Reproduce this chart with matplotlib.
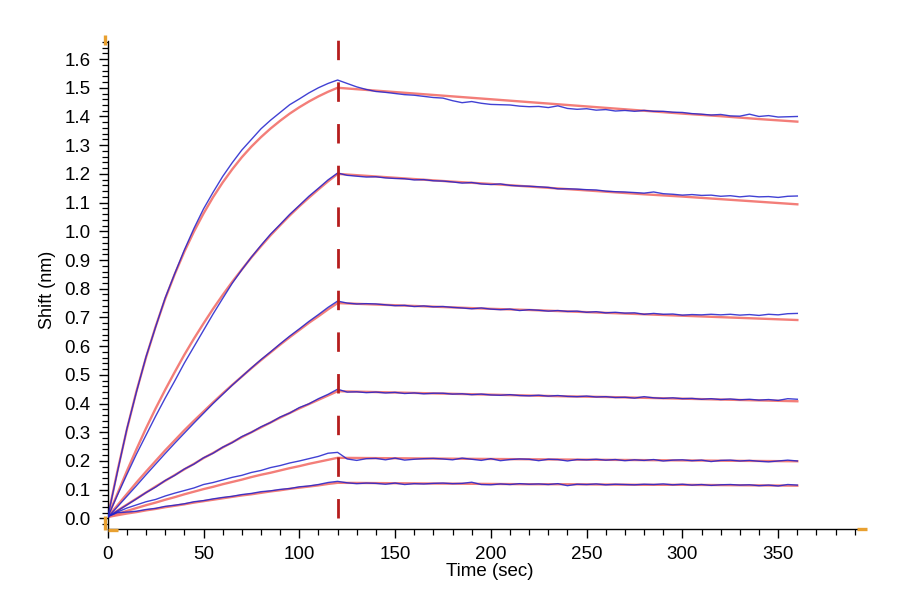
import matplotlib
matplotlib.use("Agg")
import matplotlib.pyplot as plt
from matplotlib.ticker import MultipleLocator, FormatStrFormatter

plt.rcParams["font.family"] = ["Liberation Sans", "DejaVu Sans"]

# ------------------------------------------------------------------
# data (association 0-120 s, dissociation 120-360 s)
# ------------------------------------------------------------------
t_assoc = [0, 5, 10, 15, 20, 25, 30, 35, 40, 45, 50, 55, 60, 65, 70, 75, 80,
           85, 90, 95, 100, 105, 110, 115, 120]
t_fit_dissoc = [120, 140, 160, 180, 200, 220, 240, 260, 280, 300, 320, 340, 360]
t_raw_dissoc = [125, 130, 135, 140, 145, 150, 155, 160, 165, 170, 175, 180,
                185, 190, 195, 200, 205, 210, 215, 220, 225, 230, 235, 240,
                245, 250, 255, 260, 265, 270, 275, 280, 285, 290, 295, 300,
                305, 310, 315, 320, 325, 330, 335, 340, 345, 350, 355, 360]
t_switch = 120

# fitted curves (red)
fit1_assoc = [0.005, 0.163, 0.310, 0.443, 0.561, 0.668, 0.765, 0.851, 0.929, 0.999,
              1.062, 1.119, 1.170, 1.216, 1.258, 1.295, 1.328, 1.358, 1.385, 1.410,
              1.432, 1.452, 1.470, 1.486, 1.500]
fit1_dissoc = [1.500, 1.490, 1.480, 1.470, 1.460, 1.450, 1.440, 1.430, 1.420, 1.410,
               1.401, 1.391, 1.382]
fit2_assoc = [0.005, 0.085, 0.165, 0.241, 0.314, 0.383, 0.448, 0.510, 0.570, 0.626,
              0.679, 0.730, 0.778, 0.824, 0.867, 0.909, 0.948, 0.986, 1.021, 1.055,
              1.087, 1.117, 1.146, 1.174, 1.200]
fit2_dissoc = [1.200, 1.191, 1.182, 1.173, 1.165, 1.156, 1.147, 1.138, 1.129, 1.121,
               1.112, 1.103, 1.094]
fit3_assoc = [0.005, 0.045, 0.085, 0.125, 0.163, 0.200, 0.237, 0.272, 0.307, 0.340,
              0.372, 0.404, 0.435, 0.465, 0.494, 0.523, 0.551, 0.578, 0.605, 0.631,
              0.656, 0.681, 0.704, 0.728, 0.750]
fit3_dissoc = [0.750, 0.745, 0.740, 0.735, 0.730, 0.726, 0.721, 0.716, 0.711, 0.706,
               0.701, 0.696, 0.691]
fit4_assoc = [0.005, 0.027, 0.048, 0.069, 0.090, 0.111, 0.131, 0.151, 0.171, 0.190,
              0.210, 0.228, 0.247, 0.265, 0.283, 0.300, 0.317, 0.334, 0.351, 0.367,
              0.383, 0.398, 0.413, 0.428, 0.443]
fit4_dissoc = [0.443, 0.440, 0.437, 0.434, 0.431, 0.428, 0.425, 0.423, 0.420, 0.417,
               0.414, 0.411, 0.408]
fit5_assoc = [0.005, 0.015, 0.026, 0.036, 0.046, 0.055, 0.065, 0.074, 0.084, 0.093,
              0.102, 0.110, 0.119, 0.127, 0.135, 0.144, 0.152, 0.159, 0.167, 0.175,
              0.182, 0.190, 0.197, 0.204, 0.211]
fit5_dissoc = [0.211, 0.210, 0.209, 0.208, 0.207, 0.206, 0.205, 0.204, 0.203, 0.202,
               0.201, 0.200, 0.199]
fit6_assoc = [0.005, 0.011, 0.017, 0.022, 0.028, 0.033, 0.039, 0.044, 0.049, 0.055,
              0.060, 0.065, 0.070, 0.075, 0.080, 0.084, 0.089, 0.094, 0.098, 0.103,
              0.107, 0.111, 0.115, 0.120, 0.124]
fit6_dissoc = [0.124, 0.123, 0.122, 0.121, 0.120, 0.119, 0.119, 0.118, 0.117, 0.117,
               0.116, 0.115, 0.114]

# measured traces (blue)
raw1_assoc = [0.005, 0.160, 0.312, 0.441, 0.563, 0.667, 0.768, 0.853, 0.935, 1.010,
              1.078, 1.136, 1.191, 1.239, 1.283, 1.320, 1.357, 1.387, 1.414, 1.441,
              1.461, 1.482, 1.500, 1.515, 1.527]
raw1_dissoc = [1.515, 1.503, 1.494, 1.487, 1.484, 1.480, 1.476, 1.474, 1.470, 1.466,
               1.464, 1.455, 1.448, 1.452, 1.446, 1.442, 1.441, 1.440, 1.436, 1.434,
               1.435, 1.431, 1.437, 1.428, 1.425, 1.427, 1.422, 1.424, 1.419, 1.421,
               1.418, 1.421, 1.418, 1.418, 1.415, 1.414, 1.410, 1.408, 1.405, 1.407,
               1.402, 1.401, 1.408, 1.400, 1.403, 1.398, 1.399, 1.400]
raw2_assoc = [0.005, 0.080, 0.153, 0.224, 0.290, 0.356, 0.419, 0.479, 0.541, 0.598,
              0.655, 0.712, 0.766, 0.819, 0.866, 0.910, 0.951, 0.990, 1.024, 1.059,
              1.090, 1.122, 1.150, 1.179, 1.203]
raw2_dissoc = [1.195, 1.192, 1.189, 1.190, 1.186, 1.184, 1.183, 1.179, 1.180, 1.176,
               1.175, 1.172, 1.168, 1.170, 1.165, 1.163, 1.165, 1.160, 1.158, 1.157,
               1.155, 1.153, 1.148, 1.148, 1.147, 1.145, 1.144, 1.140, 1.138, 1.137,
               1.135, 1.133, 1.137, 1.131, 1.129, 1.126, 1.128, 1.125, 1.126, 1.122,
               1.124, 1.120, 1.123, 1.120, 1.121, 1.118, 1.122, 1.123]
raw3_assoc = [0.004, 0.040, 0.077, 0.114, 0.152, 0.189, 0.226, 0.262, 0.297, 0.332,
              0.366, 0.400, 0.432, 0.464, 0.494, 0.524, 0.553, 0.580, 0.608, 0.635,
              0.660, 0.686, 0.710, 0.735, 0.757]
raw3_dissoc = [0.750, 0.747, 0.748, 0.747, 0.744, 0.741, 0.742, 0.738, 0.740, 0.737,
               0.738, 0.735, 0.733, 0.730, 0.733, 0.729, 0.727, 0.729, 0.724, 0.727,
               0.725, 0.722, 0.724, 0.721, 0.722, 0.718, 0.720, 0.716, 0.718, 0.715,
               0.716, 0.711, 0.714, 0.711, 0.712, 0.708, 0.710, 0.709, 0.711, 0.709,
               0.711, 0.708, 0.710, 0.707, 0.711, 0.709, 0.713, 0.714]
raw4_assoc = [0.006, 0.026, 0.047, 0.068, 0.090, 0.109, 0.132, 0.150, 0.172, 0.189,
              0.211, 0.227, 0.248, 0.264, 0.285, 0.300, 0.319, 0.334, 0.353, 0.367,
              0.386, 0.399, 0.417, 0.432, 0.450]
raw4_dissoc = [0.440, 0.441, 0.438, 0.440, 0.437, 0.439, 0.435, 0.437, 0.434, 0.436,
               0.436, 0.433, 0.434, 0.431, 0.433, 0.430, 0.429, 0.431, 0.428, 0.427,
               0.429, 0.426, 0.428, 0.425, 0.424, 0.426, 0.423, 0.424, 0.421, 0.422,
               0.419, 0.424, 0.420, 0.418, 0.420, 0.417, 0.418, 0.415, 0.417, 0.414,
               0.416, 0.413, 0.415, 0.412, 0.414, 0.411, 0.417, 0.415]
raw5_assoc = [0.006, 0.022, 0.036, 0.047, 0.058, 0.066, 0.078, 0.088, 0.097, 0.106,
              0.118, 0.125, 0.134, 0.143, 0.150, 0.160, 0.167, 0.177, 0.184, 0.193,
              0.200, 0.208, 0.216, 0.227, 0.230]
raw5_dissoc = [0.207, 0.202, 0.208, 0.209, 0.204, 0.210, 0.203, 0.206, 0.208, 0.209,
               0.207, 0.204, 0.210, 0.206, 0.202, 0.208, 0.201, 0.205, 0.207, 0.206,
               0.201, 0.206, 0.205, 0.200, 0.205, 0.204, 0.206, 0.203, 0.205, 0.201,
               0.204, 0.202, 0.205, 0.200, 0.203, 0.204, 0.201, 0.203, 0.198, 0.202,
               0.203, 0.200, 0.202, 0.199, 0.197, 0.200, 0.203, 0.200]
raw6_assoc = [0.006, 0.020, 0.022, 0.025, 0.031, 0.035, 0.042, 0.046, 0.051, 0.058,
              0.062, 0.068, 0.073, 0.077, 0.083, 0.087, 0.093, 0.096, 0.101, 0.104,
              0.110, 0.113, 0.118, 0.125, 0.129]
raw6_dissoc = [0.124, 0.121, 0.123, 0.122, 0.119, 0.123, 0.118, 0.121, 0.120, 0.122,
               0.123, 0.121, 0.122, 0.126, 0.118, 0.117, 0.120, 0.118, 0.121, 0.119,
               0.120, 0.118, 0.121, 0.114, 0.119, 0.118, 0.120, 0.117, 0.119, 0.118,
               0.117, 0.119, 0.118, 0.120, 0.117, 0.119, 0.116, 0.118, 0.115, 0.117,
               0.118, 0.116, 0.117, 0.114, 0.116, 0.113, 0.118, 0.116]

fits = [(fit1_assoc, fit1_dissoc), (fit2_assoc, fit2_dissoc), (fit3_assoc, fit3_dissoc),
        (fit4_assoc, fit4_dissoc), (fit5_assoc, fit5_dissoc), (fit6_assoc, fit6_dissoc)]
raws = [(raw1_assoc, raw1_dissoc), (raw2_assoc, raw2_dissoc), (raw3_assoc, raw3_dissoc),
        (raw4_assoc, raw4_dissoc), (raw5_assoc, raw5_dissoc), (raw6_assoc, raw6_dissoc)]

FIT_COLOR = "#f2706a"
RAW_COLOR = "#2020cc"
ORANGE = "#e8a030"

fig = plt.figure(figsize=(9, 6), dpi=100)
ax = fig.add_axes([0.1197, 0.1183, 0.8322, 0.8139])

t_fit = t_assoc + t_fit_dissoc[1:]
t_raw = t_assoc + t_raw_dissoc
for fa, fd in fits:
    ax.plot(t_fit, fa + fd[1:], color=FIT_COLOR, lw=1.7, alpha=0.9, zorder=2)
for ra, rd in raws:
    ax.plot(t_raw, ra + rd, color=RAW_COLOR, lw=1.0, alpha=0.85, zorder=3)

# step marker between association and dissociation
ax.plot([t_switch, t_switch], [0.0, 1.685], color="#b51d1d", lw=2.0,
        dashes=(7, 8), clip_on=False, zorder=4)

ax.set_xlim(0, 391)
ax.set_ylim(-0.037, 1.664)
ax.xaxis.set_major_locator(MultipleLocator(50))
ax.xaxis.set_minor_locator(MultipleLocator(10))
ax.yaxis.set_major_locator(MultipleLocator(0.1))
ax.yaxis.set_minor_locator(MultipleLocator(0.02))
ax.yaxis.set_major_formatter(FormatStrFormatter("%.1f"))

for side in ["top", "right"]:
    ax.spines[side].set_visible(False)
for side in ["left", "bottom"]:
    ax.spines[side].set_linewidth(1.0)
ax.tick_params(which="major", direction="out", length=6.5, width=1.0,
               labelsize=13.5, pad=6)
ax.tick_params(which="minor", direction="out", length=4, width=0.9)

# small orange end markers on the axes
kw = dict(transform=ax.transAxes, color=ORANGE, lw=2.4, clip_on=False, zorder=5,
          solid_capstyle="butt")
ax.plot([-0.003, -0.003], [0.991, 1.012], **kw)
ax.plot([-0.003, -0.003], [-0.002, 0.027], **kw)
ax.plot([0.0, 0.0134], [-0.003, -0.003], **kw)
ax.plot([1.0, 1.0134], [0.0, 0.0], **kw)

fig.text(490 / 900, 1 - 571 / 600, "Time (sec)", ha="center", va="center", fontsize=13.5)
fig.text(48 / 900, 1 - 290 / 600, "Shift (nm)", ha="center", va="center",
         rotation=90, fontsize=13)

fig.savefig("out.png", dpi=100)
